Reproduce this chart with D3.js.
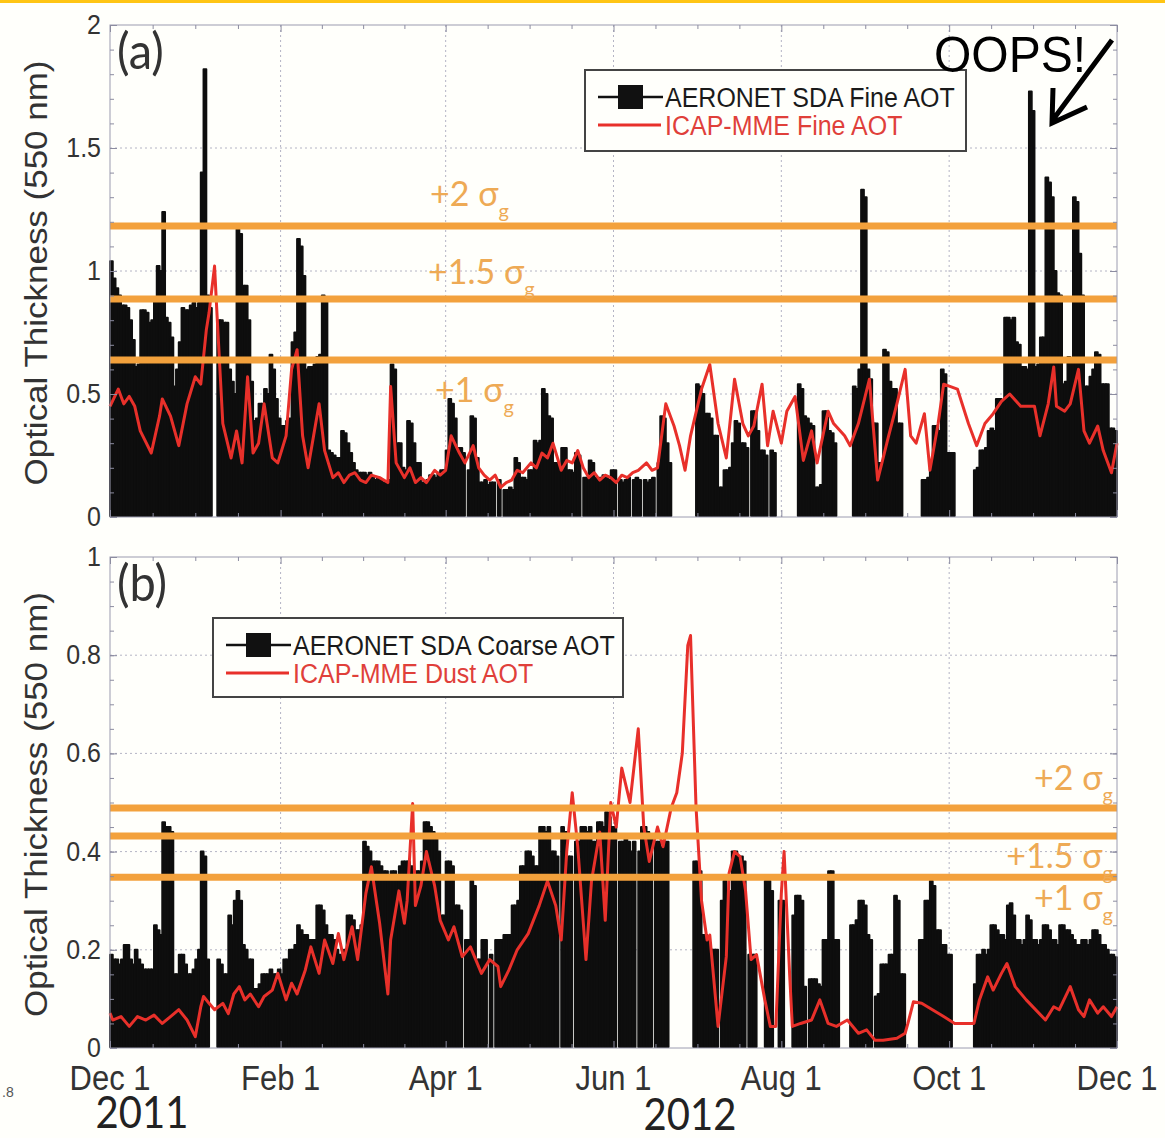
<!DOCTYPE html>
<html>
<head>
<meta charset="utf-8">
<script src="https://cdn.jsdelivr.net/npm/d3@7"></script>
<style>
  html, body { margin: 0; padding: 0; background: #fffffb; }
  svg { display: block; }
</style>
</head>
<body>
<script>
// ---- data ----
const startDay = "2011-12-01";
const endDay = "2012-12-01";
const monthTicks = ["2011-12-01", "2012-02-01", "2012-04-01", "2012-06-01", "2012-08-01", "2012-10-01", "2012-12-01"];
const monthLabels = ["Dec 1", "Feb 1", "Apr 1", "Jun 1", "Aug 1", "Oct 1", "Dec 1"];

const fineTicks = [0, 0.5, 1, 1.5, 2];
const fineTickLabels = ["0", "0.5", "1", "1.5", "2"];
const coarseTicks = [0, 0.2, 0.4, 0.6, 0.8, 1];
const coarseTickLabels = ["0", "0.2", "0.4", "0.6", "0.8", "1"];

// AERONET SDA fine AOT, one value per day from Dec 1 2011 (null = no data)
const fineObs = [
  1.04,0.97,0.93,0.90,0.86,0.86,0.85,0.80,0.72,0.61,
  0.62,0.84,0.84,0.83,0.79,0.80,0.89,1.02,1.00,1.24,
  0.81,0.79,0.73,0.53,0.60,0.71,0.85,0.84,0.84,0.86,
  0.87,0.85,0.87,1.40,1.82,0.90,0.85,null,null,0.80,
  0.80,0.79,0.79,0.60,0.55,0.50,1.17,1.15,0.94,0.94,
  0.80,0.55,0.39,0.40,0.46,0.46,0.52,0.50,0.66,0.60,
  0.48,0.40,0.37,0.37,0.39,0.40,0.71,0.75,1.13,1.10,
  0.98,0.60,0.61,0.61,0.62,0.65,0.66,0.90,0.88,0.27,
  0.26,0.25,0.24,0.24,0.35,0.34,0.30,0.26,0.22,0.19,
  0.18,0.18,0.18,0.17,0.18,0.16,0.15,0.16,0.15,0.14,
  0.14,0.15,0.62,0.60,0.30,0.30,0.20,0.19,0.39,0.38,
  0.30,0.22,0.22,0.14,0.14,0.15,0.17,0.17,0.16,0.18,
  0.19,0.19,0.27,0.48,0.46,0.40,0.28,0.28,0.26,null,
  0.19,0.41,0.40,0.24,0.14,0.14,0.15,0.13,0.14,0.14,
  null,0.15,null,0.11,0.11,0.12,0.11,0.24,0.22,0.16,
  0.16,0.15,0.19,0.19,0.31,0.30,0.31,0.52,0.50,0.41,
  0.40,0.22,0.22,0.21,0.28,0.28,0.19,0.19,0.18,0.26,
  0.25,null,0.16,0.16,0.23,0.22,0.16,0.15,0.16,0.17,
  0.16,0.15,0.19,0.19,null,0.15,0.14,0.15,0.16,null,
  0.15,0.16,0.15,null,0.15,0.14,0.15,0.16,null,0.22,
  0.41,0.40,0.30,0.22,null,null,null,null,null,null,
  null,null,null,0.54,0.53,0.50,0.42,0.42,0.40,0.33,
  0.33,0.12,0.12,0.19,0.19,0.20,0.30,0.39,0.38,0.30,
  0.30,0.28,null,0.43,0.43,0.35,0.27,0.27,0.25,null,
  0.27,0.26,null,null,null,null,null,null,null,null,
  0.54,0.52,0.41,0.40,0.38,0.37,0.12,0.12,0.13,0.43,
  0.43,0.35,0.34,0.30,null,null,null,null,null,null,
  0.53,0.52,0.60,1.33,1.30,0.60,0.56,0.38,0.38,0.22,
  0.22,0.68,0.67,0.55,0.52,0.52,0.38,0.38,null,null,
  null,null,null,null,null,0.15,0.15,0.16,0.20,0.37,
  0.37,0.35,0.60,0.58,0.26,0.26,0.26,null,null,null,
  null,null,null,null,0.19,0.20,0.27,0.27,0.28,0.35,
  0.36,0.35,0.48,0.48,0.47,0.81,0.81,0.80,0.81,0.71,
  0.70,0.61,0.61,0.60,1.73,1.65,0.61,0.62,0.73,0.73,
  1.38,1.36,1.30,1.00,0.91,0.90,0.54,0.55,0.65,0.64,
  1.30,1.28,1.07,0.90,0.53,0.53,0.57,0.60,0.67,0.66,
  0.54,0.54,0.54,0.36,0.36,0.35
];

// AERONET SDA coarse AOT, one value per day from Dec 1 2011
const coarseObs = [
  0.19,0.18,0.18,0.17,0.18,0.21,0.21,0.18,0.17,0.20,
  0.18,0.17,0.16,0.16,0.16,0.16,0.25,0.24,0.23,0.46,
  0.45,0.45,0.44,0.15,0.15,0.19,0.19,0.17,0.15,0.15,
  0.16,0.18,0.20,0.40,0.39,0.18,null,null,null,0.18,
  0.17,0.15,0.15,0.27,0.25,0.30,0.32,0.30,0.21,0.20,
  0.18,0.18,0.12,0.12,0.13,0.15,0.15,0.15,0.16,0.15,
  0.15,0.16,0.15,0.18,0.18,0.20,0.20,0.21,0.25,0.24,
  0.23,0.23,0.22,0.22,0.22,0.29,0.29,0.28,0.25,0.23,
  0.23,0.22,0.20,0.19,0.19,0.20,0.27,0.27,0.26,0.24,
  0.24,0.25,0.42,0.41,0.40,0.38,0.38,0.38,0.37,0.36,
  0.36,0.35,0.36,0.36,0.35,0.37,0.38,0.38,0.38,0.37,
  0.36,0.36,0.36,0.38,0.46,0.46,0.45,0.44,0.43,0.40,
  0.27,0.27,0.38,0.38,0.37,0.29,0.29,0.28,null,0.22,
  0.22,0.34,0.33,0.18,0.18,0.22,0.22,null,0.19,null,
  0.22,0.22,0.22,0.23,0.23,0.23,0.29,0.29,0.30,0.37,
  0.37,0.40,0.40,0.39,0.37,0.37,0.45,0.45,0.44,0.45,
  0.40,0.40,0.39,null,0.45,0.44,0.39,0.39,null,0.42,
  0.42,0.45,0.45,0.44,0.45,0.42,0.42,0.46,0.46,0.45,
  0.48,0.47,0.45,0.45,null,0.42,0.42,0.43,0.42,0.40,
  0.42,null,0.40,0.45,0.45,0.44,0.43,null,0.42,0.42,
  0.41,0.42,0.42,null,null,null,null,null,null,null,
  null,null,0.38,0.38,0.36,0.23,0.23,0.22,0.20,0.20,
  0.20,null,0.30,0.34,0.32,0.32,0.40,0.40,0.39,0.39,
  0.38,null,0.19,0.19,0.19,null,null,null,0.34,0.34,
  0.32,null,null,0.30,0.30,null,null,null,0.27,0.31,
  0.31,0.30,0.125,null,0.14,0.14,0.14,0.13,0.125,0.22,
  0.22,0.36,0.36,0.22,0.22,null,null,null,null,0.25,
  0.25,0.26,0.30,0.30,0.29,0.23,0.22,null,0.105,0.11,
  0.17,0.17,0.17,0.19,0.19,0.31,0.30,0.15,0.15,null,
  null,null,null,null,0.22,0.22,0.30,0.30,0.34,0.33,
  0.24,0.24,0.21,0.21,0.19,0.19,null,null,null,null,
  null,null,null,null,0.13,0.19,0.19,0.20,0.19,0.20,
  0.25,0.25,0.24,0.23,0.23,0.22,0.29,0.295,0.27,0.22,
  0.22,0.21,0.22,0.27,0.26,0.22,0.22,0.21,0.22,0.25,
  0.25,0.24,0.22,0.22,0.21,0.25,0.25,0.24,0.24,0.23,
  0.22,0.21,0.21,0.22,0.22,0.21,0.22,0.24,0.24,0.23,
  0.21,0.21,0.20,0.19,0.19,0.185
];

// ICAP-MME fine AOT (day offset, value)
const fineModelDay = [0,3,5,7,9,11,15,18,19,22,25,28,31,33,35,36,38,39,41,44,46,48,50,52,54,56,59,61,64,66,68,70,72,74,76,78,81,83,85,87,89,91,93,95,98,101,102,104,107,109,111,113,115,118,120,122,124,127,129,132,134,136,138,140,142,144,146,148,150,153,155,157,159,161,164,166,168,170,172,174,176,178,180,182,184,186,188,190,192,195,197,199,202,205,207,209,211,215,218,221,224,227,230,232,234,237,239,241,244,246,249,252,255,257,261,263,267,269,272,276,279,283,286,289,291,293,296,298,301,303,308,312,315,318,321,324,327,331,336,338,341,343,344,347,349,352,354,356,359,361,364,366];
const fineModelVal = [0.45,0.52,0.46,0.49,0.45,0.35,0.26,0.41,0.48,0.41,0.29,0.46,0.57,0.54,0.76,0.83,1.02,0.80,0.38,0.24,0.35,0.22,0.57,0.26,0.30,0.46,0.24,0.22,0.33,0.60,0.68,0.33,0.20,0.33,0.46,0.27,0.16,0.18,0.14,0.17,0.18,0.15,0.14,0.17,0.16,0.14,0.53,0.22,0.16,0.20,0.14,0.16,0.14,0.19,0.17,0.19,0.33,0.26,0.22,0.29,0.20,0.17,0.15,0.17,0.12,0.14,0.15,0.19,0.18,0.22,0.20,0.26,0.24,0.30,0.19,0.23,0.22,0.27,0.20,0.16,0.18,0.15,0.17,0.16,0.14,0.17,0.16,0.18,0.19,0.22,0.19,0.20,0.46,0.37,0.29,0.19,0.33,0.52,0.62,0.38,0.24,0.56,0.38,0.33,0.37,0.54,0.29,0.43,0.30,0.43,0.49,0.23,0.35,0.22,0.43,0.38,0.33,0.29,0.38,0.56,0.15,0.33,0.46,0.60,0.33,0.30,0.42,0.19,0.38,0.54,0.52,0.38,0.29,0.38,0.42,0.47,0.50,0.45,0.45,0.33,0.46,0.61,0.45,0.43,0.46,0.60,0.35,0.30,0.37,0.27,0.18,0.30];

// ICAP-MME dust AOT (day offset, value)
const dustModelDay = [0,1,4,7,10,13,16,19,22,25,28,31,33,34,36,38,41,43,45,47,49,51,54,56,59,61,64,66,68,71,73,76,78,81,83,85,88,90,93,95,96,98,101,102,105,107,108,110,111,113,115,118,120,123,125,128,131,135,138,141,142,145,148,152,156,159,162,164,166,168,170,173,175,178,180,182,184,186,189,192,194,196,199,201,204,206,208,210,211,213,215,217,218,221,224,225,227,229,231,233,235,238,240,242,244,245,247,248,251,255,258,261,264,268,272,275,278,281,286,289,290,292,295,303,307,314,316,319,321,324,326,329,333,340,343,345,349,352,354,356,359,361,364,366];
const dustModelVal = [0.071,0.057,0.064,0.044,0.064,0.057,0.067,0.05,0.064,0.078,0.057,0.023,0.084,0.105,0.091,0.078,0.091,0.07,0.11,0.125,0.098,0.11,0.084,0.105,0.118,0.152,0.098,0.132,0.11,0.159,0.206,0.152,0.22,0.172,0.233,0.18,0.247,0.18,0.315,0.369,0.33,0.254,0.11,0.22,0.32,0.254,0.30,0.498,0.29,0.33,0.40,0.33,0.26,0.22,0.247,0.186,0.206,0.152,0.18,0.166,0.125,0.159,0.20,0.233,0.29,0.34,0.29,0.22,0.40,0.52,0.41,0.18,0.34,0.44,0.26,0.50,0.45,0.57,0.50,0.65,0.45,0.38,0.45,0.41,0.49,0.52,0.60,0.82,0.84,0.49,0.30,0.22,0.23,0.044,0.186,0.356,0.40,0.39,0.32,0.18,0.19,0.098,0.044,0.044,0.315,0.40,0.152,0.044,0.05,0.057,0.098,0.05,0.044,0.057,0.03,0.037,0.016,0.016,0.02,0.03,0.05,0.094,0.091,0.064,0.05,0.05,0.098,0.145,0.118,0.152,0.172,0.125,0.098,0.057,0.084,0.078,0.125,0.078,0.064,0.098,0.071,0.084,0.064,0.084];

// sigma thresholds
const sigmaNames = ["+2", "+1.5", "+1"];
const fineSigma = [1.183, 0.886, 0.638];
const coarseSigma = [0.489, 0.432, 0.348];

// ---- layout ----
const W = 1165, H = 1138;
const left = 110, right = 1117;
const FONT = "'Liberation Sans', Arial, Helvetica, sans-serif";
const SOFT = "Lato, 'Open Sans', sans-serif";
const ORANGE = "#f3a13c";
const ORANGE_TXT = "#eeaa55";
const RED = "#e8302a";
const BLACK = "#0e0e0e";

const parseDay = d3.utcParse("%Y-%m-%d");
const start = parseDay(startDay);
const x = d3.scaleUtc().domain([start, parseDay(endDay)]).range([left, right]);
const dayDate = d => d3.utcDay.offset(start, d);
const tickDates = monthTicks.map(parseDay);
const minorDates = [];
for (let i = 0; i < tickDates.length - 1; i++) {
  const t0 = +tickDates[i], t1 = +tickDates[i + 1];
  for (let k = 1; k < 4; k++) minorDates.push(new Date(t0 + (t1 - t0) * k / 4));
}

const svg = d3.select("body").append("svg")
  .attr("width", W).attr("height", H)
  .style("background", "#fffffb");

svg.append("rect").attr("x", 0).attr("y", 0).attr("width", W).attr("height", 3).attr("fill", "#ffc514");

function addText(parent, str, px, py, size, opt = {}) {
  const t = parent.append("text")
    .attr("transform", `translate(${px},${py}) scale(1,${opt.sy || 1})`)
    .attr("font-family", opt.family || FONT)
    .attr("font-size", size)
    .attr("fill", opt.fill || "#222")
    .attr("text-anchor", opt.anchor || "start")
    .text(str);
  if (opt.len) t.attr("textLength", opt.len).attr("lengthAdjust", "spacingAndGlyphs");
  return t;
}

const panels = [
  { top: 25, bottom: 517, max: 2, ticks: fineTicks, tickLabels: fineTickLabels, minorStep: 0.1,
    obs: fineObs, mDay: fineModelDay, mVal: fineModelVal, sigma: fineSigma,
    sigmaPos: [[430, 206], [428, 284], [435, 402]], sigmaAnchor: "start",
    tag: "(a)", legend: { x: 585, y: 70, w: 381, h: 81, names: ["AERONET SDA Fine AOT", "ICAP-MME Fine AOT"] } },
  { top: 557, bottom: 1048, max: 1, ticks: coarseTicks, tickLabels: coarseTickLabels, minorStep: 0.05,
    obs: coarseObs, mDay: dustModelDay, mVal: dustModelVal, sigma: coarseSigma,
    sigmaPos: [[1113, 790], [1113, 868], [1113, 910]], sigmaAnchor: "end",
    tag: "(b)", legend: { x: 213, y: 618, w: 410, h: 79, names: ["AERONET SDA Coarse AOT", "ICAP-MME Dust AOT"] } }
];

panels.forEach((p, pi) => {
  const y = d3.scaleLinear().domain([0, p.max]).range([p.bottom, p.top]);
  const g = svg.append("g");
  const minorY = d3.range(0, p.max + 1e-9, p.minorStep);

  // grid
  g.append("g").selectAll("line")
    .data(p.ticks.slice(1, -1)).join("line")
    .attr("x1", left).attr("x2", right)
    .attr("y1", d => y(d)).attr("y2", d => y(d))
    .attr("stroke", "#b4b4c4").attr("stroke-width", 1).attr("stroke-dasharray", "2,3");
  g.append("g").selectAll("line")
    .data(tickDates.slice(1, -1)).join("line")
    .attr("x1", d => x(d)).attr("x2", d => x(d))
    .attr("y1", p.top).attr("y2", p.bottom)
    .attr("stroke", "#b4b4c4").attr("stroke-width", 1).attr("stroke-dasharray", "2,3");

  // observation bars (thick outline like the original heavy plot line)
  const bars = p.obs.map((v, i) => ({ i, v })).filter(d => d.v !== null);
  g.append("g").selectAll("rect")
    .data(bars).join("rect")
    .attr("x", d => x(dayDate(d.i)))
    .attr("width", d => x(dayDate(d.i + 1)) - x(dayDate(d.i)))
    .attr("y", d => y(d.v))
    .attr("height", d => y(0) - y(d.v) - 1)
    .attr("fill", BLACK)
    .attr("stroke", BLACK)
    .attr("stroke-width", 2)
    .attr("stroke-linejoin", "round");

  // model line
  const model = p.mDay.map((d, i) => [d, p.mVal[i]]);
  g.append("path")
    .datum(model)
    .attr("fill", "none")
    .attr("stroke", RED)
    .attr("stroke-width", 3)
    .attr("stroke-linejoin", "round")
    .attr("d", d3.line().x(d => x(dayDate(d[0]))).y(d => y(d[1])));

  // sigma lines
  g.append("g").selectAll("line")
    .data(p.sigma).join("line")
    .attr("x1", left).attr("x2", right)
    .attr("y1", d => y(d)).attr("y2", d => y(d))
    .attr("stroke", ORANGE).attr("stroke-width", 7);

  // sigma labels
  p.sigma.forEach((s, i) => {
    const t = g.append("text")
      .attr("transform", `translate(${p.sigmaPos[i][0]},${p.sigmaPos[i][1]})`)
      .attr("font-family", SOFT)
      .attr("font-size", 34)
      .attr("fill", ORANGE_TXT)
      .attr("text-anchor", p.sigmaAnchor);
    t.append("tspan").text(sigmaNames[i] + " σ");
    t.append("tspan").attr("font-size", 20).attr("dy", 12).text("g");
  });

  // box
  g.append("rect")
    .attr("x", left).attr("y", p.top)
    .attr("width", right - left).attr("height", p.bottom - p.top)
    .attr("fill", "none").attr("stroke", "#9c9cb0").attr("stroke-width", 1);

  // ticks (inward, all four sides)
  const tickStyle = sel => {
    sel.select(".domain").remove();
    sel.selectAll("line").attr("stroke", "#8c8ca0");
  };
  g.append("g").attr("transform", `translate(0,${p.bottom})`)
    .call(d3.axisBottom(x).tickValues(tickDates).tickSize(-7).tickFormat("")).call(tickStyle);
  g.append("g").attr("transform", `translate(0,${p.bottom})`)
    .call(d3.axisBottom(x).tickValues(minorDates).tickSize(-4).tickFormat("")).call(tickStyle);
  g.append("g").attr("transform", `translate(0,${p.top})`)
    .call(d3.axisTop(x).tickValues(tickDates).tickSize(-7).tickFormat("")).call(tickStyle);
  g.append("g").attr("transform", `translate(0,${p.top})`)
    .call(d3.axisTop(x).tickValues(minorDates).tickSize(-4).tickFormat("")).call(tickStyle);
  g.append("g").attr("transform", `translate(${left},0)`)
    .call(d3.axisLeft(y).tickValues(p.ticks).tickSize(-7).tickFormat("")).call(tickStyle);
  g.append("g").attr("transform", `translate(${left},0)`)
    .call(d3.axisLeft(y).tickValues(minorY).tickSize(-4).tickFormat("")).call(tickStyle);
  g.append("g").attr("transform", `translate(${right},0)`)
    .call(d3.axisRight(y).tickValues(p.ticks).tickSize(-7).tickFormat("")).call(tickStyle);
  g.append("g").attr("transform", `translate(${right},0)`)
    .call(d3.axisRight(y).tickValues(minorY).tickSize(-4).tickFormat("")).call(tickStyle);

  // y tick labels
  p.ticks.forEach((t, i) => {
    addText(g, p.tickLabels[i], left - 9, y(t) + 9, 25, { anchor: "end", sy: 1.12, fill: "#333" });
  });

  // y title
  g.append("text")
    .attr("transform", `translate(47,${(p.top + p.bottom) / 2 + 2}) rotate(-90)`)
    .attr("font-family", FONT)
    .attr("font-size", 32)
    .attr("fill", "#333")
    .attr("text-anchor", "middle")
    .attr("textLength", 425)
    .attr("lengthAdjust", "spacingAndGlyphs")
    .text("Optical Thickness (550 nm)");

  // panel tag
  addText(g, p.tag, 117, p.top + 44, 47, { family: SOFT, fill: "#333", sy: 1.05 });

  // legend
  const L = p.legend;
  const lg = g.append("g");
  lg.append("rect").attr("x", L.x).attr("y", L.y).attr("width", L.w).attr("height", L.h)
    .attr("fill", "#fffffb").attr("stroke", "#444").attr("stroke-width", 2);
  const r1 = L.y + 27, r2 = L.y + 55;
  lg.append("line").attr("x1", L.x + 13).attr("x2", L.x + 78).attr("y1", r1).attr("y2", r1)
    .attr("stroke", "#111").attr("stroke-width", 2.5);
  lg.append("rect").attr("x", L.x + 33).attr("y", r1 - 12).attr("width", 25).attr("height", 24).attr("fill", "#111");
  lg.append("line").attr("x1", L.x + 13).attr("x2", L.x + 76).attr("y1", r2).attr("y2", r2)
    .attr("stroke", RED).attr("stroke-width", 3);
  addText(lg, L.names[0], L.x + 80, r1 + 10, 25, { sy: 1.12, fill: "#1a1a1a" });
  addText(lg, L.names[1], L.x + 80, r2 + 10, 25, { sy: 1.12, fill: "#e0403a" });

  // x tick labels on bottom panel only
  if (pi === 1) {
    tickDates.forEach((d, i) => {
      addText(g, monthLabels[i], x(d), p.bottom + 42, 31, { anchor: "middle", sy: 1.15, fill: "#333" });
    });
  }
});

// years
addText(svg, "2011", 142, 1128, 40, { family: SOFT, anchor: "middle", sy: 1.12, fill: "#222" });
addText(svg, "2012", 690, 1130, 40, { family: SOFT, anchor: "middle", sy: 1.12, fill: "#222" });
addText(svg, ".8", 2, 1097, 14, { fill: "#555" });

// annotation
addText(svg, "OOPS!", 934, 72, 50, { fill: "#000", len: 152 });
svg.append("path")
  .attr("d", "M1112,40 L1052,121 M1053,88 L1052,123 L1087,107")
  .attr("fill", "none").attr("stroke", "#000").attr("stroke-width", 5);
</script>
</body>
</html>
